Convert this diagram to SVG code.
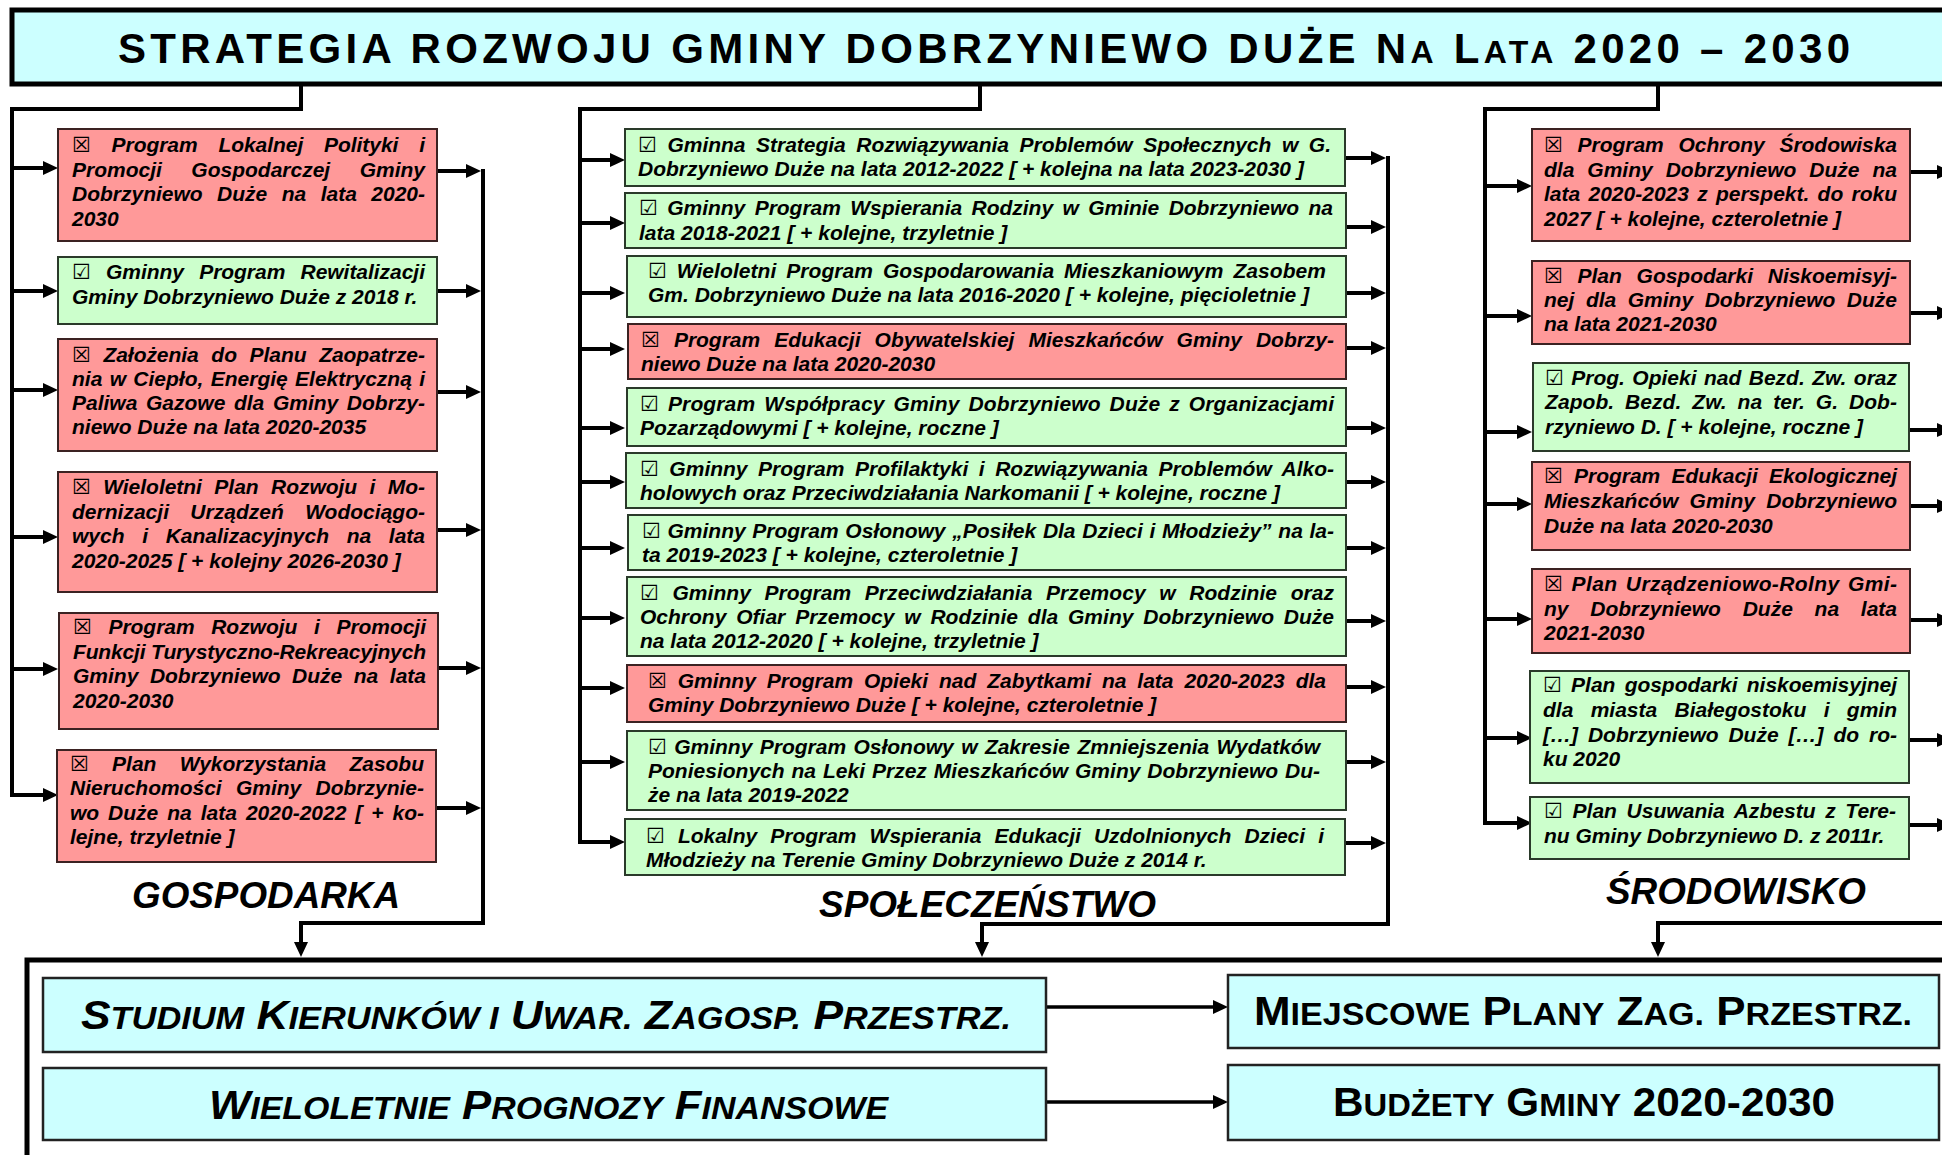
<svg xmlns="http://www.w3.org/2000/svg" width="1942" height="1155" viewBox="0 0 1942 1155">
<defs>
<marker id="ah" viewBox="0 0 15 14" markerWidth="15" markerHeight="14" refX="3" refY="7" orient="auto" markerUnits="userSpaceOnUse"><path d="M0,0 L15,7 L0,14 z" fill="#000"/></marker>
<style>
.red{fill:#FF9999;stroke:#3b2222;stroke-width:2}
.grn{fill:#CCFFCC;stroke:#2a3a2a;stroke-width:2}
.cyn{fill:#CCFFFF;stroke:#222;stroke-width:2.5}
.tx{font-family:"Liberation Sans",Arial,"DejaVu Sans",sans-serif;font-weight:bold;font-style:italic;font-size:21px;fill:#000}
.lab{font-family:"Liberation Sans",Arial,sans-serif;font-weight:bold;font-style:italic;font-size:36px;fill:#000}
.big{font-family:"Liberation Sans",Arial,sans-serif;font-weight:bold;font-size:40px;fill:#000}
.it{font-style:italic}
.ttl{font-family:"Liberation Sans",Arial,sans-serif;font-weight:bold;font-size:42px;fill:#000}
.arr{fill:none;stroke:#000;stroke-width:4;marker-end:url(#ah)}
.arr2{fill:none;stroke:#000;stroke-width:3.5;marker-end:url(#ah)}
</style>
</defs>
<rect width="1942" height="1155" fill="#fff"/>

<g id="title">
<rect x="12" y="10" width="2000" height="74" fill="#CCFFFF" stroke="#000" stroke-width="5"/>
<text class="ttl" x="118" y="63" textLength="1732" lengthAdjust="spacing">STRATEGIA ROZWOJU GMINY DOBRZYNIEWO DUŻE N<tspan font-size="32">A</tspan> L<tspan font-size="32">ATA</tspan> 2020 – 2030</text>
</g>

<g id="bottom-frame">
<rect x="27" y="960" width="2000" height="300" fill="none" stroke="#000" stroke-width="5"/>
</g>

<g id="connectors">
<path class="arr" d="M301,86 V109 H12 V795 H46"/>
<path class="arr" d="M12,168 H46"/>
<path class="arr" d="M12,291 H46"/>
<path class="arr" d="M12,390 H46"/>
<path class="arr" d="M12,537 H46"/>
<path class="arr" d="M12,669 H46"/>
<path class="arr" d="M437,171 H469"/>
<path class="arr" d="M437,291 H469"/>
<path class="arr" d="M437,392 H469"/>
<path class="arr" d="M437,530 H469"/>
<path class="arr" d="M437,668 H469"/>
<path class="arr" d="M437,808 H469"/>
<path class="arr" d="M483,169 V923 H301 V945"/>

<path class="arr" d="M980,86 V109 H580 V842 H613"/>
<path class="arr" d="M580,160 H613"/>
<path class="arr" d="M580,223 H613"/>
<path class="arr" d="M580,293 H613"/>
<path class="arr" d="M580,349 H613"/>
<path class="arr" d="M580,428 H613"/>
<path class="arr" d="M580,482 H613"/>
<path class="arr" d="M580,548 H613"/>
<path class="arr" d="M580,618 H613"/>
<path class="arr" d="M580,688 H613"/>
<path class="arr" d="M580,762 H613"/>
<path class="arr" d="M1346,158 H1374"/>
<path class="arr" d="M1346,227 H1374"/>
<path class="arr" d="M1346,293 H1374"/>
<path class="arr" d="M1346,348 H1374"/>
<path class="arr" d="M1346,428 H1374"/>
<path class="arr" d="M1346,482 H1374"/>
<path class="arr" d="M1346,548 H1374"/>
<path class="arr" d="M1346,621 H1374"/>
<path class="arr" d="M1346,687 H1374"/>
<path class="arr" d="M1346,762 H1374"/>
<path class="arr" d="M1346,843 H1374"/>
<path class="arr" d="M1388,156 V924 H982 V945"/>

<path class="arr" d="M1658,86 V109 H1485 V823 H1520"/>
<path class="arr" d="M1485,186 H1520"/>
<path class="arr" d="M1485,316 H1520"/>
<path class="arr" d="M1485,432 H1520"/>
<path class="arr" d="M1485,504 H1520"/>
<path class="arr" d="M1485,619 H1520"/>
<path class="arr" d="M1485,738 H1520"/>
<path class="arr" d="M1910,172 H1940"/>
<path class="arr" d="M1910,313 H1940"/>
<path class="arr" d="M1910,430 H1940"/>
<path class="arr" d="M1910,506 H1940"/>
<path class="arr" d="M1910,620 H1940"/>
<path class="arr" d="M1910,740 H1940"/>
<path class="arr" d="M1910,825 H1940"/>
<path class="arr" d="M1960,923 H1658 V945"/>

<path class="arr2" d="M1046,1007 H1216"/>
<path class="arr2" d="M1046,1102 H1216"/>
</g>

<g id="L1">
<rect class="red" x="58" y="129" width="379" height="112"/>
<text class="tx" x="72" y="152" word-spacing="15" textLength="353" lengthAdjust="spacing">☒ Program Lokalnej Polityki i</text>
<text class="tx" x="72" y="176.5" word-spacing="23.6" textLength="353" lengthAdjust="spacing">Promocji Gospodarczej Gminy</text>
<text class="tx" x="72" y="201" word-spacing="8.6" textLength="353" lengthAdjust="spacing">Dobrzyniewo Duże na lata 2020-</text>
<text class="tx" x="72" y="225.5">2030</text>
</g>
<g id="L2">
<rect class="grn" x="58" y="257" width="379" height="67"/>
<text class="tx" x="72" y="279" word-spacing="9.4" textLength="353" lengthAdjust="spacing">☑ Gminny Program Rewitalizacji</text>
<text class="tx" x="72" y="304">Gminy Dobrzyniewo Duże z 2018 r.</text>
</g>
<g id="L3">
<rect class="red" x="58" y="339" width="379" height="112"/>
<text class="tx" x="72" y="362" word-spacing="6.8" textLength="353" lengthAdjust="spacing">☒ Założenia do Planu Zaopatrze-</text>
<text class="tx" x="72" y="386" word-spacing="1.5" textLength="353" lengthAdjust="spacing">nia w Ciepło, Energię Elektryczną i</text>
<text class="tx" x="72" y="410" word-spacing="2.8" textLength="353" lengthAdjust="spacing">Paliwa Gazowe dla Gminy Dobrzy-</text>
<text class="tx" x="72" y="434">niewo Duże na lata 2020-2035</text>
</g>
<g id="L4">
<rect class="red" x="58" y="472" width="379" height="120"/>
<text class="tx" x="72" y="494" word-spacing="6.6" textLength="353" lengthAdjust="spacing">☒ Wieloletni Plan Rozwoju i Mo-</text>
<text class="tx" x="72" y="518.5" word-spacing="15.5" textLength="353" lengthAdjust="spacing">dernizacji Urządzeń Wodociągo-</text>
<text class="tx" x="72" y="543" word-spacing="11.8" textLength="353" lengthAdjust="spacing">wych i Kanalizacyjnych na lata</text>
<text class="tx" x="72" y="567.5">2020-2025 [ + kolejny 2026-2030 ]</text>
</g>
<g id="L5">
<rect class="red" x="59" y="613" width="379" height="116"/>
<text class="tx" x="73" y="634" word-spacing="10.9" textLength="353" lengthAdjust="spacing">☒ Program Rozwoju i Promocji</text>
<text class="tx" x="73" y="658.5" textLength="353" lengthAdjust="spacing">Funkcji Turystyczno-Rekreacyjnych</text>
<text class="tx" x="73" y="683" word-spacing="5.7" textLength="353" lengthAdjust="spacing">Gminy Dobrzyniewo Duże na lata</text>
<text class="tx" x="73" y="707.5">2020-2030</text>
</g>
<g id="L6">
<rect class="red" x="57" y="750" width="379" height="112"/>
<text class="tx" x="70" y="771" word-spacing="17.5" textLength="354" lengthAdjust="spacing">☒ Plan Wykorzystania Zasobu</text>
<text class="tx" x="70" y="795" word-spacing="8.4" textLength="354" lengthAdjust="spacing">Nieruchomości Gminy Dobrzynie-</text>
<text class="tx" x="70" y="819.5" word-spacing="3.1" textLength="354" lengthAdjust="spacing">wo Duże na lata 2020-2022 [ + ko-</text>
<text class="tx" x="70" y="844">lejne, trzyletnie ]</text>
</g>

<g id="M1">
<rect class="grn" x="625" y="129" width="720" height="57"/>
<text class="tx" x="638" y="152" word-spacing="4.8" textLength="693" lengthAdjust="spacing">☑ Gminna Strategia Rozwiązywania Problemów Społecznych  w G.</text>
<text class="tx" x="638" y="176">Dobrzyniewo Duże na lata 2012-2022 [ + kolejna na lata 2023-2030 ]</text>
</g>
<g id="M2">
<rect class="grn" x="625" y="193" width="721" height="55"/>
<text class="tx" x="639" y="215" word-spacing="3.6" textLength="694" lengthAdjust="spacing">☑ Gminny Program Wspierania Rodziny w Gminie Dobrzyniewo na</text>
<text class="tx" x="639" y="240">lata 2018-2021 [ + kolejne, trzyletnie ]</text>
</g>
<g id="M3">
<rect class="grn" x="627" y="256" width="719" height="61"/>
<text class="tx" x="648" y="278" word-spacing="4" textLength="678" lengthAdjust="spacing">☑ Wieloletni Program Gospodarowania Mieszkaniowym Zasobem</text>
<text class="tx" x="648" y="302">Gm. Dobrzyniewo Duże na lata 2016-2020 [ + kolejne, pięcioletnie ]</text>
</g>
<g id="M4">
<rect class="red" x="628" y="324" width="718" height="55"/>
<text class="tx" x="641" y="347" word-spacing="8.3" textLength="693" lengthAdjust="spacing">☒ Program Edukacji Obywatelskiej Mieszkańców Gminy Dobrzy-</text>
<text class="tx" x="641" y="371">niewo Duże na lata 2020-2030</text>
</g>
<g id="M5">
<rect class="grn" x="627" y="388" width="719" height="58"/>
<text class="tx" x="640" y="411" word-spacing="3" textLength="694" lengthAdjust="spacing">☑ Program Współpracy Gminy Dobrzyniewo Duże z Organizacjami</text>
<text class="tx" x="640" y="435">Pozarządowymi [ + kolejne, roczne ]</text>
</g>
<g id="M6">
<rect class="grn" x="626" y="453" width="720" height="55"/>
<text class="tx" x="640" y="476" word-spacing="4.7" textLength="694" lengthAdjust="spacing">☑ Gminny Program Profilaktyki i Rozwiązywania Problemów Alko-</text>
<text class="tx" x="640" y="500">holowych oraz Przeciwdziałania Narkomanii [ + kolejne, roczne ]</text>
</g>
<g id="M7">
<rect class="grn" x="628" y="515" width="718" height="55"/>
<text class="tx" x="642" y="538" word-spacing="0.9" textLength="692" lengthAdjust="spacing">☑ Gminny Program Osłonowy „Posiłek Dla Dzieci i Młodzieży” na la-</text>
<text class="tx" x="642" y="562">ta 2019-2023 [ + kolejne, czteroletnie ]</text>
</g>
<g id="M8">
<rect class="grn" x="627" y="577" width="719" height="79"/>
<text class="tx" x="640" y="600" word-spacing="7.7" textLength="694" lengthAdjust="spacing">☑ Gminny Program Przeciwdziałania Przemocy w Rodzinie oraz</text>
<text class="tx" x="640" y="624" word-spacing="4" textLength="694" lengthAdjust="spacing">Ochrony Ofiar Przemocy w Rodzinie dla Gminy Dobrzyniewo Duże</text>
<text class="tx" x="640" y="648">na lata 2012-2020 [ + kolejne, trzyletnie ]</text>
</g>
<g id="M9">
<rect class="red" x="627" y="665" width="719" height="57"/>
<text class="tx" x="648" y="688" word-spacing="5.1" textLength="678" lengthAdjust="spacing">☒ Gminny Program Opieki nad Zabytkami na lata 2020-2023 dla</text>
<text class="tx" x="648" y="712">Gminy Dobrzyniewo Duże [ + kolejne, czteroletnie ]</text>
</g>
<g id="M10">
<rect class="grn" x="627" y="731" width="719" height="79"/>
<text class="tx" x="648" y="754" word-spacing="1.6" textLength="672" lengthAdjust="spacing">☑ Gminny Program Osłonowy w Zakresie Zmniejszenia Wydatków</text>
<text class="tx" x="648" y="778" word-spacing="1.1" textLength="672" lengthAdjust="spacing">Poniesionych na Leki Przez Mieszkańców Gminy Dobrzyniewo Du-</text>
<text class="tx" x="648" y="802">że na lata 2019-2022</text>
</g>
<g id="M11">
<rect class="grn" x="625" y="819" width="720" height="56"/>
<text class="tx" x="646" y="843" word-spacing="7.3" textLength="678" lengthAdjust="spacing">☑ Lokalny Program Wspierania Edukacji Uzdolnionych Dzieci i</text>
<text class="tx" x="646" y="867">Młodzieży na Terenie Gminy Dobrzyniewo Duże z 2014 r.</text>
</g>

<g id="R1">
<rect class="red" x="1532" y="129" width="378" height="112"/>
<text class="tx" x="1544" y="152" word-spacing="9" textLength="353" lengthAdjust="spacing">☒ Program Ochrony Środowiska</text>
<text class="tx" x="1544" y="176.5" word-spacing="7.2" textLength="353" lengthAdjust="spacing">dla Gminy Dobrzyniewo Duże na</text>
<text class="tx" x="1544" y="201" word-spacing="2.4" textLength="353" lengthAdjust="spacing">lata 2020-2023 z perspekt. do roku</text>
<text class="tx" x="1544" y="225.5">2027 [ + kolejne, czteroletnie ]</text>
</g>
<g id="R2">
<rect class="red" x="1532" y="261" width="378" height="83"/>
<text class="tx" x="1544" y="283" word-spacing="9" textLength="353" lengthAdjust="spacing">☒ Plan Gospodarki Niskoemisyj-</text>
<text class="tx" x="1544" y="307" word-spacing="5.7" textLength="353" lengthAdjust="spacing">nej dla Gminy Dobrzyniewo Duże</text>
<text class="tx" x="1544" y="331">na lata 2021-2030</text>
</g>
<g id="R3">
<rect class="grn" x="1533" y="363" width="376" height="88"/>
<text class="tx" x="1545" y="385" word-spacing="1.6" textLength="352" lengthAdjust="spacing">☑ Prog. Opieki nad Bezd. Zw. oraz</text>
<text class="tx" x="1545" y="409" word-spacing="5" textLength="352" lengthAdjust="spacing">Zapob. Bezd. Zw. na ter. G. Dob-</text>
<text class="tx" x="1545" y="434">rzyniewo D. [ + kolejne, roczne ]</text>
</g>
<g id="R4">
<rect class="red" x="1532" y="462" width="378" height="88"/>
<text class="tx" x="1544" y="483" word-spacing="5.5" textLength="353" lengthAdjust="spacing">☒ Program Edukacji Ekologicznej</text>
<text class="tx" x="1544" y="508" word-spacing="5.5" textLength="353" lengthAdjust="spacing">Mieszkańców Gminy Dobrzyniewo</text>
<text class="tx" x="1544" y="533">Duże na lata 2020-2030</text>
</g>
<g id="R5">
<rect class="red" x="1532" y="569" width="378" height="84"/>
<text class="tx" x="1544" y="591" word-spacing="2.1" textLength="353" lengthAdjust="spacing">☒ Plan Urządzeniowo-Rolny Gmi-</text>
<text class="tx" x="1544" y="616" word-spacing="15.9" textLength="353" lengthAdjust="spacing">ny Dobrzyniewo Duże na lata</text>
<text class="tx" x="1544" y="640">2021-2030</text>
</g>
<g id="R6">
<rect class="grn" x="1530" y="671" width="379" height="112"/>
<text class="tx" x="1543" y="692" word-spacing="3.5" textLength="354" lengthAdjust="spacing">☑ Plan gospodarki niskoemisyjnej</text>
<text class="tx" x="1543" y="717" word-spacing="11.5" textLength="354" lengthAdjust="spacing">dla miasta Białegostoku i gmin</text>
<text class="tx" x="1543" y="742" word-spacing="4.1" textLength="354" lengthAdjust="spacing">[…] Dobrzyniewo Duże […] do ro-</text>
<text class="tx" x="1543" y="766">ku 2020</text>
</g>
<g id="R7">
<rect class="grn" x="1530" y="797" width="379" height="62"/>
<text class="tx" x="1544" y="818" word-spacing="3.8" textLength="352" lengthAdjust="spacing">☑ Plan Usuwania Azbestu z Tere-</text>
<text class="tx" x="1544" y="843">nu Gminy Dobrzyniewo D. z 2011r.</text>
</g>

<g id="labels">
<text class="lab" x="132" y="908" textLength="268" lengthAdjust="spacingAndGlyphs">GOSPODARKA</text>
<text class="lab" x="819" y="917" textLength="337" lengthAdjust="spacingAndGlyphs">SPOŁECZEŃSTWO</text>
<text class="lab" x="1606" y="904" textLength="260" lengthAdjust="spacingAndGlyphs">ŚRODOWISKO</text>
</g>

<g id="B1">
<rect class="cyn" x="43" y="978" width="1003" height="74"/>
<text class="big it" x="81" y="1029" textLength="930" lengthAdjust="spacingAndGlyphs">S<tspan font-size="31">TUDIUM</tspan> K<tspan font-size="31">IERUNKÓW I</tspan> U<tspan font-size="31">WAR.</tspan> Z<tspan font-size="31">AGOSP.</tspan> P<tspan font-size="31">RZESTRZ.</tspan></text>
</g>
<g id="B2">
<rect class="cyn" x="43" y="1068" width="1003" height="72"/>
<text class="big it" x="209" y="1119" textLength="679" lengthAdjust="spacingAndGlyphs">W<tspan font-size="31">IELOLETNIE</tspan> P<tspan font-size="31">ROGNOZY</tspan> F<tspan font-size="31">INANSOWE</tspan></text>
</g>
<g id="B3">
<rect class="cyn" x="1228" y="975" width="711" height="73"/>
<text class="big" x="1254" y="1025" textLength="658" lengthAdjust="spacingAndGlyphs">M<tspan font-size="31">IEJSCOWE</tspan> P<tspan font-size="31">LANY</tspan> Z<tspan font-size="31">AG.</tspan> P<tspan font-size="31">RZESTRZ.</tspan></text>
</g>
<g id="B4">
<rect class="cyn" x="1228" y="1065" width="711" height="75"/>
<text class="big" x="1333" y="1116" textLength="502" lengthAdjust="spacingAndGlyphs">B<tspan font-size="31">UDŻETY</tspan> G<tspan font-size="31">MINY</tspan> 2020-2030</text>
</g>
</svg>
